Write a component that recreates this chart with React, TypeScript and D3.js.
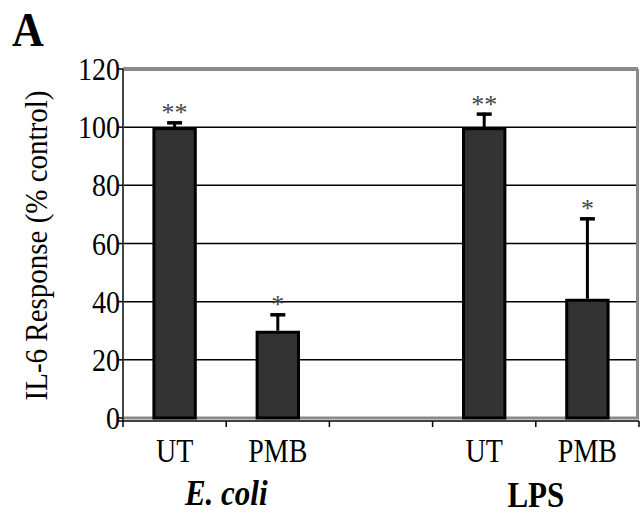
import React from "react";
import * as d3 from "d3";

const categories = ["UT", "PMB", "", "UT", "PMB"];
const groups = ["E. coli", "LPS"];
const means = [100, 30, null, 100, 41];
const errors = [2, 6, null, 5, 28];
const stars = ["**", "*", "", "**", "*"];
const yTicks = [0, 20, 40, 60, 80, 100, 120];

const W = 641;
const H = 521;
const margin = {top: 69, right: 2, bottom: 103, left: 123};
const serif = "'Liberation Serif', 'Times New Roman', serif";

// the original's lettering is a little taller than it is wide
const Label = ({x, y, sy = 1.15, anchor = "middle", children, ...rest}) => (
    <text transform={`translate(${x},${y}) scale(1,${sy})`} textAnchor={anchor} fontFamily={serif} {...rest}>
        {children}
    </text>
);

const App = () => {
    const keys = categories.map((c, i) => i + ":" + c);
    const x = d3
    .scaleBand()
    .domain(keys)
    .range([margin.left, W - margin.right])
    .paddingInner(0.57)
    .paddingOuter(0.285);
    const y = d3
    .scaleLinear()
    .domain([0, 120])
    .range([H - margin.bottom, margin.top]);

    const step = x.step();
    const x0 = margin.left;
    const x1 = W - margin.right;
    const y0 = y(0);
    const groupCenter = (a, b) => (x(keys[a]) + x(keys[b]) + x.bandwidth()) / 2;

    return (
        <div style={{position: "absolute", left: 0, top: 0}}>
            <svg width={W} height={H} style={{display: "block", background: "#fff"}}>
                <Label x={12} y={46} anchor="start" fontWeight="bold" fontSize={44} sy={1.1}>A</Label>

                {/* gridlines */}
                {yTicks.filter(t => t > 0 && t < 120).map(t => (
                    <line key={t} x1={x0} x2={x1} y1={y(t)} y2={y(t)} stroke="#000" strokeWidth={1.5}/>
                ))}

                {/* frame */}
                <line x1={x0} x2={x1 - 1} y1={y(120)} y2={y(120)} stroke="#8a8a8a" strokeWidth={4}/>
                <line x1={x1 - 1.5} x2={x1 - 1.5} y1={y(120)} y2={y0} stroke="#8a8a8a" strokeWidth={3}/>
                <line x1={x0} x2={x1} y1={y0} y2={y0} stroke="#8a8a8a" strokeWidth={3}/>
                <line x1={x0} x2={x0} y1={y(120)} y2={y0 + 3} stroke="#444" strokeWidth={2}/>

                {/* y ticks */}
                {yTicks.map(t => (
                    <g key={t}>
                        <line x1={x0 - 5} x2={x0} y1={y(t)} y2={y(t)} stroke="#000" strokeWidth={1.5}/>
                        <Label x={x0 - 3} y={y(t) + 11} anchor="end" fontSize={28} sy={1.12}>{t}</Label>
                    </g>
                ))}

                {/* x axis */}
                <line x1={x0 - 5} x2={x1} y1={y0 + 3} y2={y0 + 3} stroke="#000" strokeWidth={1.5}/>
                {d3.range(keys.length + 1).map(i => (
                    <line key={i} x1={x0 + i * step} x2={x0 + i * step} y1={y0 + 3} y2={y0 + 9}
                          stroke="#000" strokeWidth={1.5}/>
                ))}

                {/* bars */}
                {keys.map((k, i) => {
                    const v = means[i];
                    if (v == null) return null;
                    const bx = x(k);
                    const bw = x.bandwidth();
                    const cx = bx + bw / 2;
                    const top = y(v + errors[i]);
                    return (
                        <g key={k}>
                            <line x1={cx} x2={cx} y1={y(v)} y2={top} stroke="#000" strokeWidth={3}/>
                            <line x1={cx - 7.5} x2={cx + 7.5} y1={top + 1.5} y2={top + 1.5} stroke="#000" strokeWidth={3.5}/>
                            <rect x={bx + 1.5} y={y(v) + 1.5} width={bw - 3} height={y0 - y(v) - 1.5}
                                  fill="#333333" stroke="#000" strokeWidth={3}/>
                            <text x={cx} y={top} textAnchor="middle" fontFamily={serif} fontSize={26}
                                  fill="#444">{stars[i]}</text>
                        </g>
                    );
                })}

                {/* category labels */}
                {keys.map((k, i) => (
                    <Label key={k} x={x(k) + x.bandwidth() / 2} y={462} fontSize={28} sy={1.2}>{categories[i]}</Label>
                ))}

                <Label x={groupCenter(0, 1)} y={505} fontWeight="bold" fontStyle="italic" fontSize={31}
                       sy={1.18}>{groups[0]}</Label>
                <Label x={groupCenter(3, 4)} y={507} fontWeight="bold" fontSize={31} sy={1.18}>{groups[1]}</Label>

                <text transform={`translate(47,${(y(120) + y0) / 2 + 2}) rotate(-90) scale(1,1.1)`} textAnchor="middle"
                      fontFamily={serif} fontSize={29}>IL-6 Response (% control)</text>
            </svg>
        </div>
    );
};

export default App;
